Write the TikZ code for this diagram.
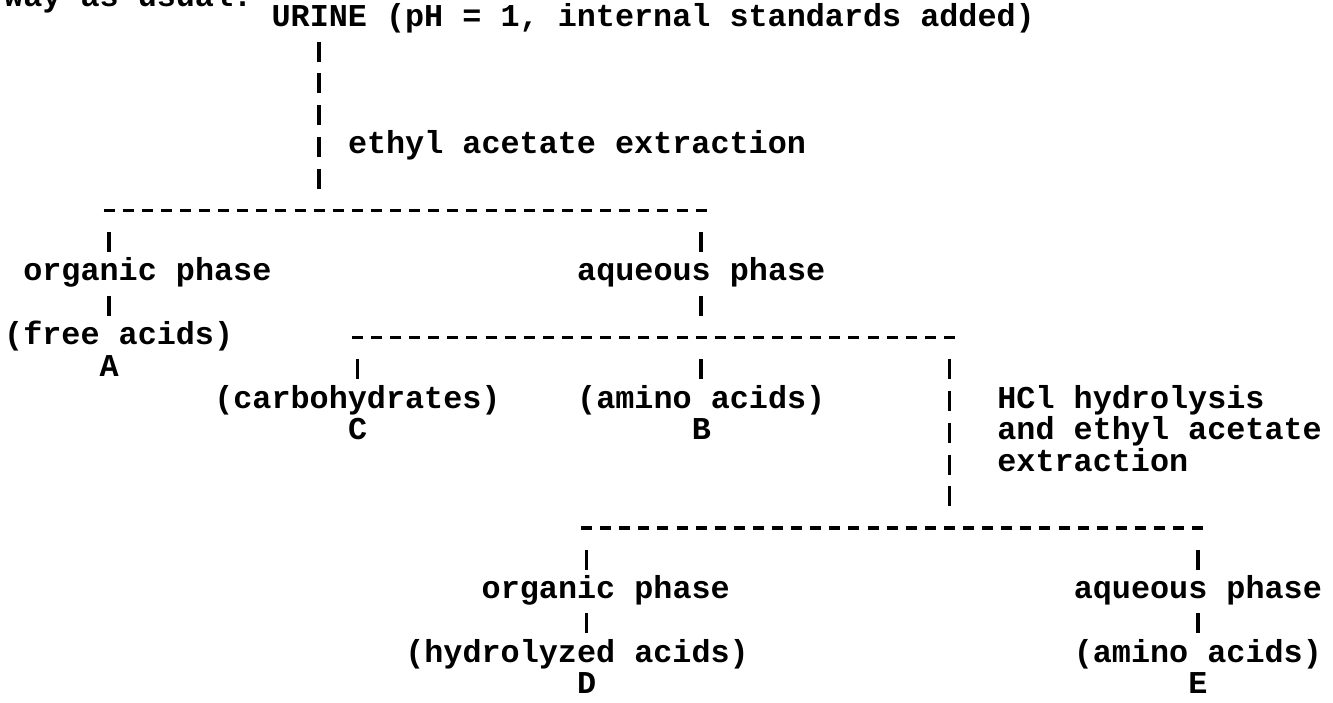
\documentclass[tikz,border=0pt]{standalone}
\usepackage{fontspec}
\newfontfamily\tw{Liberation Mono}
\begin{document}
\begin{tikzpicture}[x=1pt,y=-1pt,
  declare function={cx(\c)=4+19.1*\c; ly(\n)=20+31.75*\n;},
  txt/.style={font=\tw\bfseries\fontsize{31.8}{31.75}\selectfont, inner sep=0pt, anchor=base west},
  vbar/.style={line width=3.6pt, dash pattern=on 20pt off 11.75pt},
  hdash/.style={line width=3.8pt, dash pattern=on 11pt off 8.1pt}]
\useasboundingbox (0,0) rectangle (1333,703);
\clip (0,0) rectangle (1333,703);
% text
\node[txt] (cut) at ({cx(0)},7) {way as usual:};
\node[txt] (urine) at ({cx(14)},{ly(0)+7}) {URINE (pH = 1, internal standards added)};
\node[txt] (ethyl) at ({cx(18)},{ly(4)+7}) {ethyl acetate extraction};
\node[txt] (org1) at ({cx(1)},{ly(8)+7}) {organic phase};
\node[txt] (aq1) at ({cx(30)},{ly(8)+7}) {aqueous phase};
\node[txt] (free) at ({cx(0)},{ly(10)+7}) {(free acids)};
\node[txt] (A) at ({cx(5)},{ly(11)+7}) {A};
\node[txt] (carb) at ({cx(11)},{ly(12)+7}) {(carbohydrates)};
\node[txt] (C) at ({cx(18)},{ly(13)+7}) {C};
\node[txt] (amino1) at ({cx(30)},{ly(12)+7}) {(amino acids)};
\node[txt] (B) at ({cx(36)},{ly(13)+7}) {B};
\node[txt] (hcl1) at ({cx(52)},{ly(12)+7}) {HCl hydrolysis};
\node[txt] (hcl2) at ({cx(52)},{ly(13)+7}) {and ethyl acetate};
\node[txt] (hcl3) at ({cx(52)},{ly(14)+7}) {extraction};
\node[txt] (org2) at ({cx(25)},{ly(18)+7}) {organic phase};
\node[txt] (aq2) at ({cx(56)},{ly(18)+7}) {aqueous phase};
\node[txt] (hydro) at ({cx(21)},{ly(20)+7}) {(hydrolyzed acids)};
\node[txt] (D) at ({cx(30)},{ly(21)+7}) {D};
\node[txt] (amino2) at ({cx(56)},{ly(20)+7}) {(amino acids)};
\node[txt] (E) at ({cx(62)},{ly(21)+7}) {E};
% horizontal dashed rules
\foreach \nm/\a/\b/\n in {d1/5/36/6, d2/18/49/10, d3/30/62/16}{
  \coordinate (\nm l) at ({cx(\a)+4},{ly(\n)});
  \coordinate (\nm r) at ({cx(\b)+15},{ly(\n)});
  \draw[hdash] (\nm l) -- (\nm r);
}
% vertical bar connectors
\foreach \nm/\c/\a/\b in {v1/16/1/5, v2/5/7/7, v3/36/7/7, v4/5/9/9, v5/36/9/9,
  v6/18/11/11, v7/36/11/11, v8/49/11/15, v9/30/17/17, v10/62/17/17,
  v11/30/19/19, v12/62/19/19}{
  \coordinate (\nm t) at ({cx(\c)+9.55},{ly(\a)-10});
  \coordinate (\nm b) at ({cx(\c)+9.55},{ly(\b)+10});
  \draw[vbar] (\nm t) -- (\nm b);
}
\end{tikzpicture}
\end{document}
